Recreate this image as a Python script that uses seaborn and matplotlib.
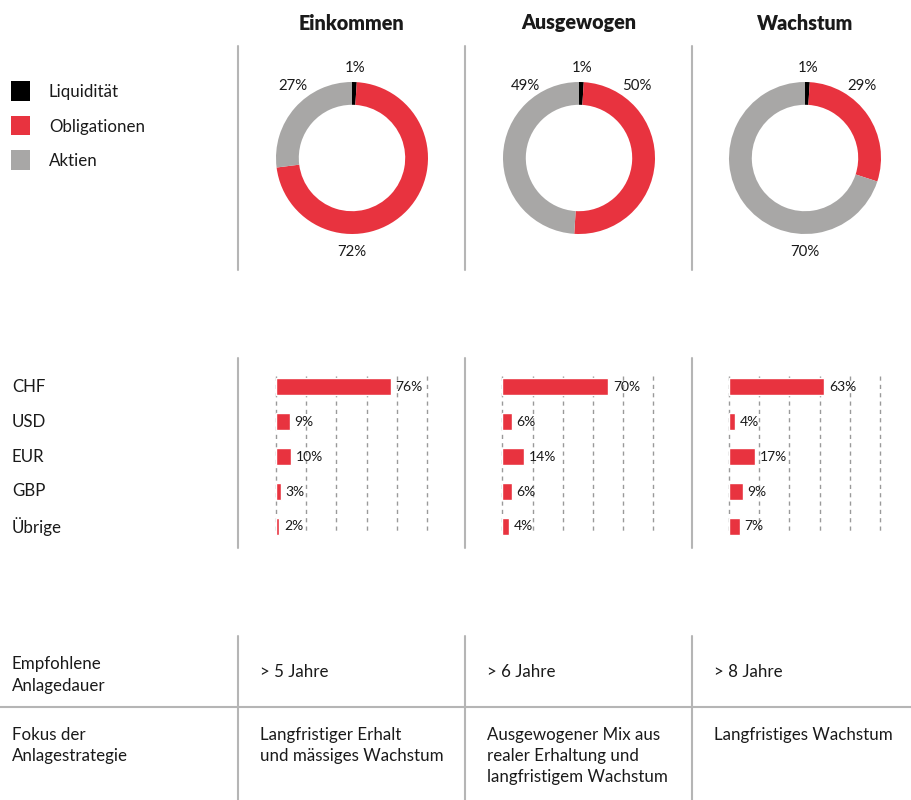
import numpy as np
import seaborn as sns
import matplotlib.pyplot as plt
from matplotlib.lines import Line2D
from matplotlib.patches import Rectangle
from matplotlib.transforms import blended_transform_factory

# --- data -------------------------------------------------------------
strategies = ['Einkommen', 'Ausgewogen', 'Wachstum']
asset_classes = ['Liquidität', 'Obligationen', 'Aktien']
liquiditaet = [1, 1, 1]
obligationen = [72, 50, 29]
aktien = [27, 49, 70]

currencies = ['CHF', 'USD', 'EUR', 'GBP', 'Übrige']
fx_einkommen = [76, 9, 10, 3, 2]
fx_ausgewogen = [70, 6, 14, 6, 4]
fx_wachstum = [63, 4, 17, 9, 7]

row_labels = ['Empfohlene\nAnlagedauer', 'Fokus der\nAnlagestrategie']
anlagedauer = ['> 5 Jahre', '> 6 Jahre', '> 8 Jahre']
fokus = ['Langfristiger Erhalt\nund mässiges Wachstum',
         'Ausgewogener Mix aus\nrealer Erhaltung und\nlangfristigem Wachstum',
         'Langfristiges Wachstum']

# --- style ------------------------------------------------------------
colors = ['#000000', '#E8333F', '#A8A7A6']
red = colors[1]
line_grey = '#B5B5B5'
text_col = '#1a1a1a'
fs = 12.2

sns.set_theme(style='white')
plt.rcParams['font.family'] = ['Lato', 'DejaVu Sans']

W, H = 912, 800


def px(x, y, w, h):
    return [x / W, 1 - (y + h) / H, w / W, h / H]


def fy(y):
    return 1 - y / H


def fx(x):
    return x / W


fig = plt.figure(figsize=(W / 100, H / 100), dpi=100)

col_left = [238, 465, 692]
col_center = [352, 579, 805]

# label spots around each donut (unit = outer radius), order as asset_classes
pie_label_pos = [
    [(0.04, 1.18), (0.0, -1.24), (-0.78, 0.95)],
    [(0.04, 1.18), (0.76, 0.95), (-0.71, 0.95)],
    [(0.04, 1.18), (0.75, 0.95), (0.0, -1.24)],
]

# --- titles -----------------------------------------------------------
for c, name in zip(col_center, strategies):
    fig.text(fx(c), fy(23), name, ha='center', va='center',
             fontsize=14.2, fontweight='heavy', color=text_col)

# --- legend -----------------------------------------------------------
for i, (lab, col) in enumerate(zip(asset_classes, colors)):
    yc = 91 + i * 34.5
    fig.add_artist(Rectangle((fx(11), fy(yc + 9.5)), 19 / W, 19 / H,
                             transform=fig.transFigure, color=col, lw=0))
    fig.text(fx(49), fy(yc + 1.5), lab, ha='left', va='center',
             fontsize=fs, color=text_col)

# --- donuts -----------------------------------------------------------
R = 76
for k in range(3):
    vals = [liquiditaet[k], obligationen[k], aktien[k]]
    ax = fig.add_axes(px(col_center[k] - 100, 158 - 100, 200, 200))
    ax.pie(vals, colors=colors, startangle=90, counterclock=False, radius=1,
           wedgeprops=dict(width=0.3, linewidth=0))
    lim = 100 / R
    ax.set_xlim(-lim, lim)
    ax.set_ylim(-lim, lim)
    ax.set_aspect('equal')
    ax.axis('off')
    for v, (lx, ly) in zip(vals, pie_label_pos[k]):
        ax.text(lx, ly, f'{v}%', ha='center', va='center',
                fontsize=10.8, color=text_col)

# --- currency bars ----------------------------------------------------
fx_all = [fx_einkommen, fx_ausgewogen, fx_wachstum]
bar_left = [276, 502.5, 729]
for k in range(3):
    ax = fig.add_axes(px(bar_left[k], 369, 151, 175))
    ax.vlines(np.arange(0, 101, 20), -0.3, 4.15, colors='#9a9a9a',
              linestyles=(0, (3, 3)), linewidth=1, zorder=0, clip_on=False)
    sns.barplot(x=fx_all[k], y=currencies, orient='h', color=red,
                width=0.48, saturation=1, ax=ax, zorder=2)
    ax.bar_label(ax.containers[0], labels=[f'{v}%' for v in fx_all[k]],
                 padding=3.5, fontsize=10, color=text_col)
    ax.set_xlim(0, 100)
    ax.set_ylim(4.5, -0.5)
    ax.set_xlabel('')
    ax.set_ylabel('')
    ax.set_xticks([])
    ax.set_yticks([])
    for s in ax.spines.values():
        s.set_visible(False)
    ax.patch.set_alpha(0)
    if k == 0:
        tr = blended_transform_factory(fig.transFigure, ax.transData)
        for i, cur in enumerate(currencies):
            ax.text(fx(12), i, cur, transform=tr, ha='left', va='center',
                    fontsize=fs, color=text_col)

# --- table ------------------------------------------------------------
fig.text(fx(12), fy(675), row_labels[0], ha='left', va='center',
         fontsize=fs, color=text_col, linespacing=1.5)
fig.text(fx(12), fy(727), row_labels[1], ha='left', va='top',
         fontsize=fs, color=text_col, linespacing=1.4)
for k in range(3):
    x0 = col_left[k] + 22
    fig.text(fx(x0), fy(672), anlagedauer[k], ha='left', va='center',
             fontsize=fs, color=text_col)
    fig.text(fx(x0), fy(727), fokus[k], ha='left', va='top',
             fontsize=fs, color=text_col, linespacing=1.4)

fig.add_artist(Line2D([0, 1], [fy(707), fy(707)], transform=fig.transFigure,
                      color=line_grey, lw=1.5))

# --- column dividers --------------------------------------------------
for x in col_left:
    for y0, y1 in [(46, 270), (358, 548), (636, 800)]:
        fig.add_artist(Line2D([fx(x), fx(x)], [fy(y0), fy(y1)],
                              transform=fig.transFigure, color=line_grey, lw=1.5))

fig.savefig('out.png', dpi=100, facecolor='white')
